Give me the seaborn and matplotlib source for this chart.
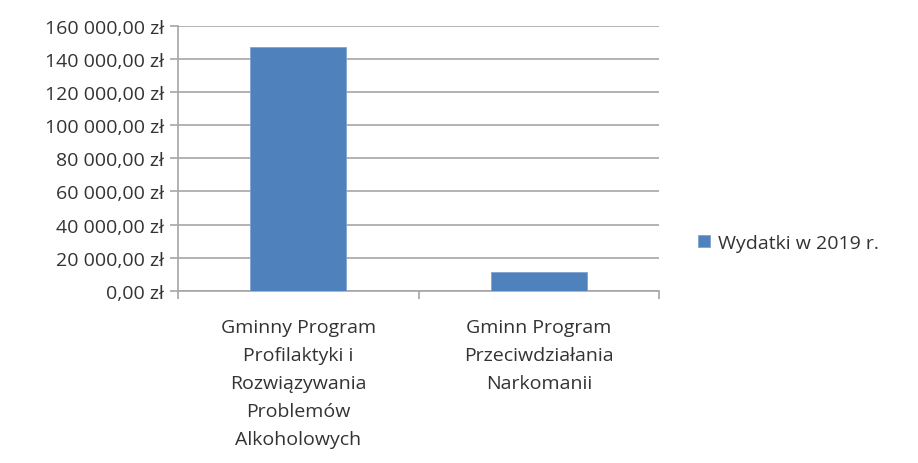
import matplotlib
matplotlib.use('Agg')
import matplotlib.pyplot as plt
import seaborn as sns
import pandas as pd
from matplotlib.ticker import FuncFormatter, FixedLocator

# Dane
kategorie = ['Gminny Program\nProfilaktyki i\nRozwiązywania\nProblemów\nAlkoholowych',
             'Gminn Program\nPrzeciwdziałania\nNarkomanii']
wydatki = [147000, 11500]
seria = 'Wydatki w 2019 r.'
y_ticks = [0, 20000, 40000, 60000, 80000, 100000, 120000, 140000, 160000]

sns.set_style('white')
plt.rcParams['font.family'] = ['Open Sans', 'DejaVu Sans']

df = pd.DataFrame({'kategoria': kategorie, 'wartosc': wydatki, 'seria': seria})

fig = plt.figure(figsize=(9.18, 4.64), dpi=100)
ax = fig.add_axes([0.194, 0.371, 0.524, 0.5715])

sns.barplot(data=df, x='kategoria', y='wartosc', hue='seria', palette=['#4F81BD'],
            saturation=1, width=0.4, ax=ax, legend=True, zorder=3,
            edgecolor='#7FA3D0', linewidth=0.6)

ax.set_ylim(0, 160000)
ax.set_xlim(-0.5, 1.5)
ax.set_yticks(y_ticks)


def fmt(v, pos):
    s = f'{v:,.2f}'.replace(',', ' ').replace('.', ',')
    return s + ' zł'


ax.yaxis.set_major_formatter(FuncFormatter(fmt))
ax.grid(axis='y', color='#A6A6A6', linewidth=1.2, zorder=0)
ax.set_axisbelow(True)

for s in ['top', 'right']:
    ax.spines[s].set_visible(False)
ax.spines['left'].set_color('#A6A6A6')
ax.spines['bottom'].set_color('#A6A6A6')
ax.spines['left'].set_linewidth(1.2)
ax.spines['bottom'].set_linewidth(1.2)

txt = '#333333'
ax.tick_params(axis='y', left=True, length=6, color='#A6A6A6', width=1.2,
               labelsize=14, labelcolor=txt, pad=4)
# etykiety kategorii bez znaczników, znaczniki na granicach kategorii
ax.tick_params(axis='x', bottom=False, labelsize=14, labelcolor=txt, pad=16)
ax.xaxis.set_minor_locator(FixedLocator([-0.5, 0.5, 1.5]))
ax.tick_params(axis='x', which='minor', bottom=True, length=6, color='#A6A6A6', width=1.2)
for lbl in ax.get_xticklabels():
    lbl.set_linespacing(1.71)
    lbl.set_verticalalignment('top')

ax.set_xlabel('')
ax.set_ylabel('')

leg = ax.legend(loc='center left', bbox_to_anchor=(1.045, 0.18), frameon=False,
                fontsize=14, handlelength=0.6, handleheight=0.6, handletextpad=0.4)
for t in leg.get_texts():
    t.set_color(txt)

plt.savefig('out.png', dpi=100)
